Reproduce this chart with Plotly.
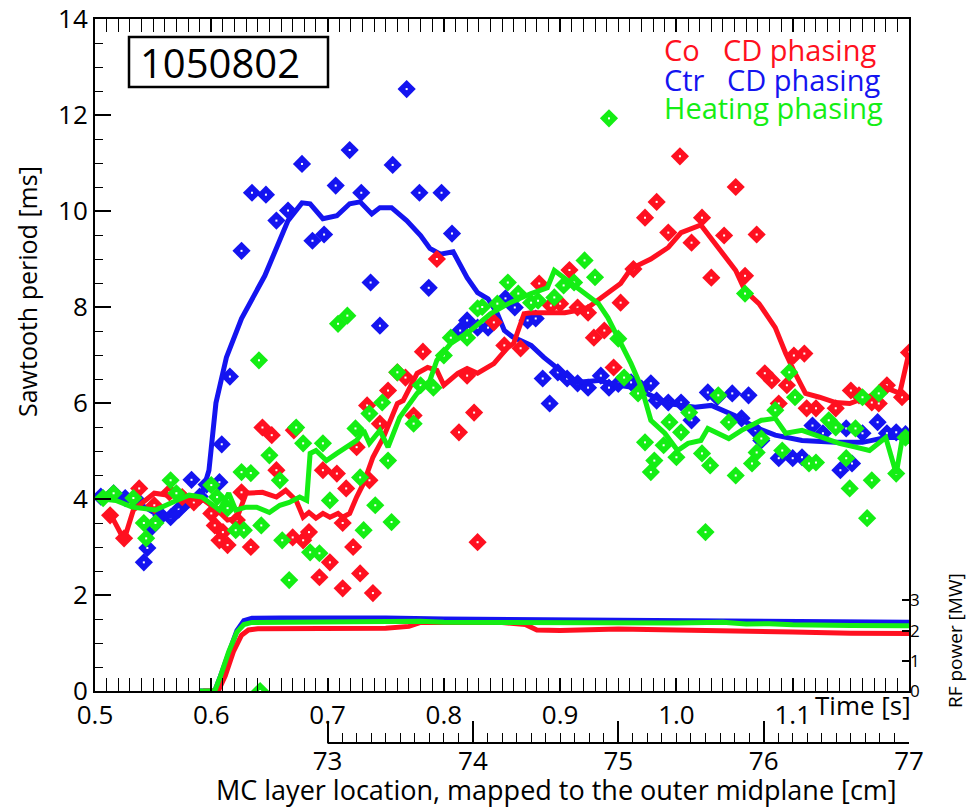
import plotly.graph_objects as go

# ---- Sawtooth period scatter samples [ms] vs time [s] ----
ctr_t = [0.505, 0.516, 0.526, 0.536, 0.542, 0.545, 0.549, 0.557, 0.565, 0.572, 0.578, 0.583,
         0.590, 0.596, 0.607, 0.609, 0.616, 0.626, 0.635, 0.647, 0.656, 0.666, 0.678, 0.687,
         0.697, 0.707, 0.719, 0.729, 0.737, 0.745, 0.756, 0.768, 0.779, 0.787, 0.798, 0.807,
         0.814, 0.820, 0.829, 0.838, 0.853, 0.861, 0.872, 0.879, 0.885, 0.891, 0.898, 0.906,
         0.915, 0.924, 0.935, 0.942, 0.950, 0.961, 0.970, 0.978, 0.983, 0.993, 1.004, 1.013,
         1.027, 1.035, 1.048, 1.056, 1.062, 1.068, 1.073, 1.088, 1.100, 1.108, 1.117, 1.126,
         1.141, 1.146, 1.151, 1.160, 1.173, 1.181, 1.189, 1.197]
ctr_v = [4.05, 4.12, 4.02, 3.98, 2.68, 2.98, 3.42, 3.65, 3.62, 3.78, 3.95, 4.40,
         4.05, 4.30, 4.35, 5.14, 6.55, 9.17, 10.38, 10.34, 9.80, 10.01, 10.98, 9.38,
         9.51, 10.53, 11.27, 10.38, 8.51, 7.61, 10.96, 12.54, 10.38, 8.40, 10.38, 9.53,
         7.51, 7.72, 7.57, 7.57, 8.18, 7.99, 7.72, 7.76, 6.51, 5.99, 6.64, 6.51,
         6.41, 6.32, 6.57, 6.32, 6.40, 6.43, 6.30, 6.41, 6.05, 6.01, 6.01, 5.64,
         6.22, 6.12, 6.20, 5.68, 6.16, 5.43, 5.22, 4.85, 4.85, 4.87, 5.53, 5.37,
         4.60, 5.47, 4.74, 5.37, 5.60, 5.37, 5.39, 5.35]

co_t = [0.513, 0.525, 0.538, 0.551, 0.564, 0.575, 0.585, 0.600, 0.603, 0.607, 0.610, 0.614,
        0.622, 0.626, 0.634, 0.644, 0.652, 0.656, 0.670, 0.671, 0.679, 0.684, 0.693, 0.696,
        0.702, 0.708, 0.713, 0.713, 0.716, 0.722, 0.725, 0.728, 0.734, 0.736, 0.739, 0.745,
        0.752, 0.760, 0.767, 0.774, 0.782, 0.794, 0.813, 0.820, 0.826, 0.829, 0.843, 0.852,
        0.866, 0.882, 0.892, 0.900, 0.908, 0.915, 0.924, 0.929, 0.938, 0.946, 0.952, 0.963,
        0.973, 0.983, 0.993, 1.003, 1.013, 1.022, 1.030, 1.041, 1.051, 1.059, 1.069, 1.076,
        1.082, 1.088, 1.095, 1.101, 1.110, 1.112, 1.120, 1.137, 1.150, 1.157, 1.168, 1.174,
        1.181, 1.194, 1.200]
co_v = [3.66, 3.18, 4.22, 3.87, 4.14, 4.04, 3.93, 3.70, 3.45, 3.14, 3.31, 3.04,
        3.56, 4.14, 3.00, 5.49, 5.33, 4.60, 3.20, 5.43, 3.14, 3.31, 2.37, 4.60,
        2.68, 4.53, 3.50, 2.14, 4.22, 3.00, 5.08, 2.45, 5.95, 4.39, 2.04, 5.57,
        6.26, 6.64, 6.53, 5.74, 7.07, 9.00, 5.39, 6.57, 5.80, 3.10, 7.68, 7.20,
        7.14, 8.49, 8.03, 8.07, 8.77, 7.99, 7.88, 7.36, 7.51, 6.74, 8.09, 8.79,
        9.86, 10.19, 9.55, 11.14, 9.34, 9.86, 8.61, 9.49, 10.50, 8.65, 9.51, 6.62,
        6.47, 5.99, 6.37, 6.99, 7.03, 5.89, 5.89, 5.89, 6.26, 6.16, 6.01, 5.99,
        6.37, 6.12, 7.05]

heat_t = [0.507, 0.516, 0.533, 0.542, 0.544, 0.552, 0.565, 0.570, 0.600, 0.605, 0.614, 0.621,
          0.626, 0.628, 0.634, 0.641, 0.642, 0.643, 0.650, 0.659, 0.661, 0.667, 0.673, 0.679,
          0.685, 0.693, 0.696, 0.702, 0.709, 0.717, 0.724, 0.728, 0.731, 0.736, 0.741, 0.747,
          0.752, 0.755, 0.760, 0.774, 0.780, 0.791, 0.800, 0.806, 0.820, 0.829, 0.833, 0.846,
          0.855, 0.864, 0.875, 0.881, 0.895, 0.903, 0.912, 0.921, 0.930, 0.942, 0.950, 0.955,
          0.967, 0.973, 0.978, 0.981, 0.989, 0.994, 1.000, 1.004, 1.011, 1.022, 1.025, 1.029,
          1.036, 1.045, 1.051, 1.059, 1.065, 1.069, 1.073, 1.085, 1.091, 1.097, 1.102, 1.114,
          1.120, 1.131, 1.137, 1.146, 1.149, 1.154, 1.160, 1.164, 1.168, 1.174, 1.189, 1.197]
heat_v = [4.02, 4.12, 4.02, 3.50, 3.18, 3.50, 4.39, 4.12, 4.29, 4.04, 3.81, 3.35,
          4.56, 3.35, 4.54, 6.89, 0.00, 3.45, 4.91, 4.39, 3.14, 2.31, 5.49, 5.16,
          2.89, 2.87, 5.16, 3.97, 7.65, 7.82, 5.47, 4.45, 3.35, 5.78, 3.87, 6.01,
          4.80, 3.52, 6.64, 5.57, 6.37, 6.32, 6.99, 7.36, 7.36, 7.97, 8.00, 8.07,
          8.51, 8.28, 8.09, 8.13, 8.20, 8.45, 8.51, 8.97, 8.62, 11.93, 7.34, 6.53,
          6.20, 5.18, 4.56, 4.80, 5.12, 5.60, 4.87, 5.39, 5.80, 4.95, 3.31, 4.70,
          6.16, 5.60, 4.49, 8.28, 4.74, 4.97, 5.26, 5.85, 5.01, 6.64, 6.12, 4.74,
          4.76, 5.64, 5.49, 4.85, 4.22, 5.47, 6.12, 3.60, 4.39, 6.20, 4.53, 5.28]

# ---- Smoothed sawtooth period curves ----
ctr_line_t = [0.515, 0.525, 0.535, 0.545, 0.555, 0.565, 0.575, 0.585, 0.592, 0.598, 0.604,
              0.613, 0.626, 0.646, 0.666, 0.678, 0.685, 0.696, 0.708, 0.719, 0.728, 0.738,
              0.745, 0.755, 0.768, 0.780, 0.788, 0.797, 0.808, 0.820, 0.829, 0.838, 0.846,
              0.852, 0.859, 0.875, 0.886, 0.903, 0.915, 0.933, 0.950, 0.964, 0.978, 0.993,
              1.016, 1.030, 1.050, 1.068, 1.085, 1.108, 1.137, 1.160, 1.180, 1.200]
ctr_line_v = [4.05, 4.00, 3.95, 3.80, 3.65, 3.65, 3.75, 3.95, 4.10, 4.60, 6.00,
              6.95, 7.76, 8.65, 9.80, 10.17, 10.15, 9.84, 9.90, 10.15, 10.19, 9.94,
              10.07, 10.07, 9.80, 9.49, 9.22, 9.10, 9.15, 8.61, 8.30, 8.17, 7.86,
              7.51, 7.38, 7.20, 6.95, 6.62, 6.43, 6.47, 6.37, 6.32, 6.16, 5.99,
              5.91, 5.95, 5.74, 5.49, 5.33, 5.22, 5.18, 5.18, 5.28, 5.28]

co_line_t = [0.513, 0.525, 0.533, 0.551, 0.574, 0.594, 0.605, 0.614, 0.622, 0.630, 0.644,
             0.656, 0.664, 0.673, 0.679, 0.684, 0.690, 0.696, 0.702, 0.709, 0.713, 0.719,
             0.725, 0.731, 0.739, 0.748, 0.760, 0.765, 0.777, 0.786, 0.794, 0.800, 0.812,
             0.820, 0.829, 0.843, 0.855, 0.860, 0.869, 0.875, 0.889, 0.904, 0.915, 0.924,
             0.938, 0.952, 0.961, 0.978, 0.993, 1.004, 1.021, 1.036, 1.051, 1.059, 1.071,
             1.085, 1.094, 1.102, 1.111, 1.123, 1.137, 1.149, 1.160, 1.168, 1.180, 1.192, 1.200]
co_line_v = [3.70, 3.15, 3.77, 4.12, 4.04, 3.97, 3.77, 3.56, 3.60, 4.12, 4.14,
             4.04, 4.18, 3.97, 3.62, 3.72, 3.60, 3.70, 3.62, 3.70, 3.62, 3.70,
             4.04, 4.33, 4.87, 5.28, 5.99, 6.05, 6.62, 6.74, 6.68, 6.37, 6.62,
             6.72, 6.62, 6.82, 7.16, 7.24, 7.86, 7.88, 7.88, 7.88, 7.93, 7.99,
             8.24, 8.49, 8.80, 9.00, 9.24, 9.55, 9.71, 9.24, 8.76, 8.34, 8.07,
             7.57, 7.03, 6.62, 6.20, 6.12, 6.01, 5.99, 6.09, 6.16, 6.32, 6.20, 7.05]

heat_line_t = [0.503, 0.518, 0.532, 0.552, 0.570, 0.581, 0.592, 0.607, 0.615, 0.621, 0.630,
               0.639, 0.650, 0.659, 0.667, 0.676, 0.682, 0.685, 0.690, 0.699, 0.708, 0.716,
               0.725, 0.731, 0.736, 0.745, 0.752, 0.762, 0.777, 0.788, 0.794, 0.806, 0.823,
               0.840, 0.857, 0.875, 0.889, 0.895, 0.903, 0.918, 0.933, 0.941, 0.950, 0.961,
               0.970, 0.978, 0.990, 1.001, 1.010, 1.021, 1.027, 1.036, 1.045, 1.056, 1.073,
               1.085, 1.094, 1.108, 1.126, 1.140, 1.154, 1.166, 1.180, 1.189, 1.195, 1.200]
heat_line_v = [4.01, 3.97, 3.83, 3.77, 3.97, 4.08, 4.04, 3.77, 4.12, 3.77, 3.83,
               3.83, 3.72, 3.87, 3.93, 4.04, 3.97, 4.95, 5.01, 4.80, 4.95, 5.08,
               5.22, 5.43, 5.16, 5.43, 5.08, 5.70, 6.20, 6.47, 6.89, 7.24, 7.51,
               7.86, 8.09, 8.28, 8.40, 8.76, 8.61, 8.34, 8.07, 7.78, 7.36, 6.82,
               6.32, 5.64, 5.37, 5.01, 5.16, 5.22, 5.47, 5.37, 5.26, 5.43, 5.64,
               5.68, 5.37, 5.43, 5.28, 5.16, 5.08, 5.01, 5.28, 4.53, 5.37, 5.22]

# ---- RF power traces [MW] ----
rf_ctr_t = [0.590, 0.603, 0.608, 0.615, 0.622, 0.628, 0.635, 0.660, 0.700, 0.750, 0.800,
            0.850, 0.900, 0.950, 1.000, 1.050, 1.100, 1.150, 1.200]
rf_ctr_p = [0.0, 0.0, 0.5, 1.3, 2.0, 2.33, 2.41, 2.42, 2.43, 2.42, 2.38,
            2.37, 2.36, 2.36, 2.35, 2.34, 2.32, 2.30, 2.28]
rf_co_t = [0.593, 0.606, 0.612, 0.619, 0.626, 0.632, 0.640, 0.700, 0.750, 0.770, 0.780,
           0.850, 0.870, 0.880, 0.900, 0.950, 1.000, 1.050, 1.100, 1.150, 1.200]
rf_co_p = [0.0, 0.0, 0.5, 1.3, 1.85, 2.02, 2.06, 2.08, 2.08, 2.14, 2.27,
           2.27, 2.20, 2.02, 2.00, 2.05, 2.03, 2.00, 1.95, 1.91, 1.90]
rf_heat_t = [0.590, 0.603, 0.608, 0.615, 0.622, 0.628, 0.635, 0.700, 0.750, 0.780, 0.800,
             0.850, 0.880, 0.920, 0.950, 0.980, 1.000, 1.040, 1.060, 1.080, 1.100, 1.150, 1.200]
rf_heat_p = [0.0, 0.0, 0.5, 1.3, 1.95, 2.20, 2.27, 2.30, 2.30, 2.31, 2.28,
             2.27, 2.24, 2.23, 2.22, 2.24, 2.25, 2.28, 2.22, 2.23, 2.19, 2.17, 2.16]

time_ticks = [0.5, 0.6, 0.7, 0.8, 0.9, 1.0, 1.1]
time_labels = ["0.5", "0.6", "0.7", "0.8", "0.9", "1.0", "1.1"]
mc_ticks = [73, 74, 75, 76, 77]
rf_ticks = [0, 1, 2, 3]

RED, BLUE, GREEN = "#ff1020", "#1414f0", "#14ee14"
FONT = "Open Sans"

# figure geometry (pixels) used to place text in paper coordinates
W, H = 977, 810
ML, MR, MT, MB = 95, 68, 19, 60
PW, PH = W - ML - MR, H - MT - MB


def fx(px):
    return (px - ML) / PW


def fy(py):
    return (H - MB - py) / PH


AX_BOTTOM = 691      # pixel row of the time axis
MC_LINE = 743        # pixel row of the MC-layer axis
RF_PER_MW = 30.2     # pixels per MW on the RF axis

fig = go.Figure()

series = [
    (ctr_t, ctr_v, ctr_line_t, ctr_line_v, BLUE),
    (co_t, co_v, co_line_t, co_line_v, RED),
    (heat_t, heat_v, heat_line_t, heat_line_v, GREEN),
]
for pt, pv, lt, lv, col in series:
    fig.add_trace(go.Scatter(x=pt, y=pv, mode="markers",
                             marker=dict(symbol="diamond", size=14, color=col,
                                         line=dict(width=0)),
                             showlegend=False, hoverinfo="skip"))
    fig.add_trace(go.Scatter(x=pt, y=pv, mode="markers",
                             marker=dict(symbol="square", size=2, color="white",
                                         line=dict(width=0)),
                             showlegend=False, hoverinfo="skip"))
    fig.add_trace(go.Scatter(x=lt, y=lv, mode="lines",
                             line=dict(color=col, width=5),
                             showlegend=False, hoverinfo="skip"))

for rt, rp, col in [(rf_ctr_t, rf_ctr_p, BLUE), (rf_co_t, rf_co_p, RED),
                    (rf_heat_t, rf_heat_p, GREEN)]:
    fig.add_trace(go.Scatter(x=rt, y=rp, yaxis="y2", mode="lines",
                             line=dict(color=col, width=5),
                             showlegend=False, hoverinfo="skip"))

y_dom0 = fy(AX_BOTTOM)
rf_top = (AX_BOTTOM - MT) / RF_PER_MW

minor_mc = [73 + i / 10 for i in range(1, 40) if i % 10 != 0]

fig.update_layout(
    template="none",
    width=W, height=H,
    margin=dict(l=ML, r=MR, t=MT, b=MB, pad=0, autoexpand=False),
    paper_bgcolor="white", plot_bgcolor="white",
    font=dict(family=FONT, color="black"),
    showlegend=False,
    xaxis=dict(range=[0.5, 1.2], domain=[0, 1], anchor="y", automargin=False,
               tickvals=time_ticks, ticktext=time_labels,
               ticks="inside", ticklen=13, tickwidth=1.5, tickcolor="black",
               minor=dict(dtick=0.01, tick0=0.5, ticks="inside", ticklen=6,
                          tickwidth=1, tickcolor="black", showgrid=False),
               showline=True, linecolor="black", linewidth=2, mirror="allticks",
               showgrid=False, zeroline=False,
               tickfont=dict(size=26, family=FONT, color="black")),
    yaxis=dict(range=[0, 14], domain=[y_dom0, 1], anchor="x", automargin=False,
               tickvals=[0, 2, 4, 6, 8, 10, 12, 14],
               ticks="inside", ticklen=16, tickwidth=1.5, tickcolor="black",
               minor=dict(dtick=0.5, tick0=0, ticks="inside", ticklen=8,
                          tickwidth=1, tickcolor="black", showgrid=False),
               showline=True, linecolor="black", linewidth=2, mirror=True,
               showgrid=False, zeroline=False,
               tickfont=dict(size=26, family=FONT, color="black")),
    yaxis2=dict(range=[0, rf_top], overlaying="y", side="right", anchor="x",
                automargin=False,
                tickvals=rf_ticks, ticks="inside", ticklen=7, tickwidth=1.5,
                tickcolor="black", showline=False, showgrid=False, zeroline=False,
                tickfont=dict(size=17, family=FONT, color="black")),
    xaxis2=dict(range=[71.4, 77], overlaying="x", anchor="free", automargin=False,
                position=fy(MC_LINE), side="bottom",
                tickvals=mc_ticks, ticks="inside", ticklen=22, tickwidth=1.5,
                tickcolor="black",
                minor=dict(tickvals=minor_mc, ticks="inside", ticklen=10,
                           tickwidth=1, tickcolor="black", showgrid=False),
                showline=False, showgrid=False, zeroline=False,
                tickfont=dict(size=26, family=FONT, color="black")),
)

# baseline of the MC-layer axis (only spans 73-77 cm)
fig.add_shape(type="line", xref="x2", yref="paper", x0=73, x1=77,
              y0=fy(MC_LINE), y1=fy(MC_LINE), line=dict(color="black", width=2))

# shot number box
fig.add_shape(type="rect", xref="paper", yref="paper",
              x0=fx(129), x1=fx(328), y0=fy(87), y1=fy(37),
              line=dict(color="black", width=2.5), fillcolor="white")
fig.add_annotation(x=fx(220), y=fy(62), xref="paper", yref="paper",
                   text="1050802", showarrow=False, xanchor="center", yanchor="middle",
                   font=dict(size=40, family=FONT, color="black"))

# phasing labels
labels = [
    ("Co", 662, 50, RED), ("CD phasing", 721, 50, RED),
    ("Ctr", 662, 79, BLUE), ("CD phasing", 725, 79, BLUE),
    ("Heating phasing", 662, 107, GREEN),
]
for txt, px, py, col in labels:
    fig.add_annotation(x=fx(px), y=fy(py), xref="paper", yref="paper", text=txt,
                       showarrow=False, xanchor="left", yanchor="middle",
                       font=dict(size=29, family=FONT, color=col))

# axis titles
fig.add_annotation(x=fx(27), y=fy(292), xref="paper", yref="paper",
                   text="Sawtooth period [ms]", textangle=-90, showarrow=False,
                   xanchor="center", yanchor="middle",
                   font=dict(size=25, family=FONT, color="black"))
fig.add_annotation(x=fx(813), y=fy(705), xref="paper", yref="paper",
                   text="Time [s]", showarrow=False, xanchor="left", yanchor="middle",
                   font=dict(size=26, family=FONT, color="black"))
fig.add_annotation(x=fx(955), y=fy(641), xref="paper", yref="paper",
                   text="RF power [MW]", textangle=-90, showarrow=False,
                   xanchor="center", yanchor="middle",
                   font=dict(size=19, family=FONT, color="black"))
fig.add_annotation(x=fx(556), y=fy(790), xref="paper", yref="paper",
                   text="MC layer location, mapped to the outer midplane [cm]",
                   showarrow=False, xanchor="center", yanchor="middle",
                   font=dict(size=27, family=FONT, color="black"))

fig.write_html("out.html")
